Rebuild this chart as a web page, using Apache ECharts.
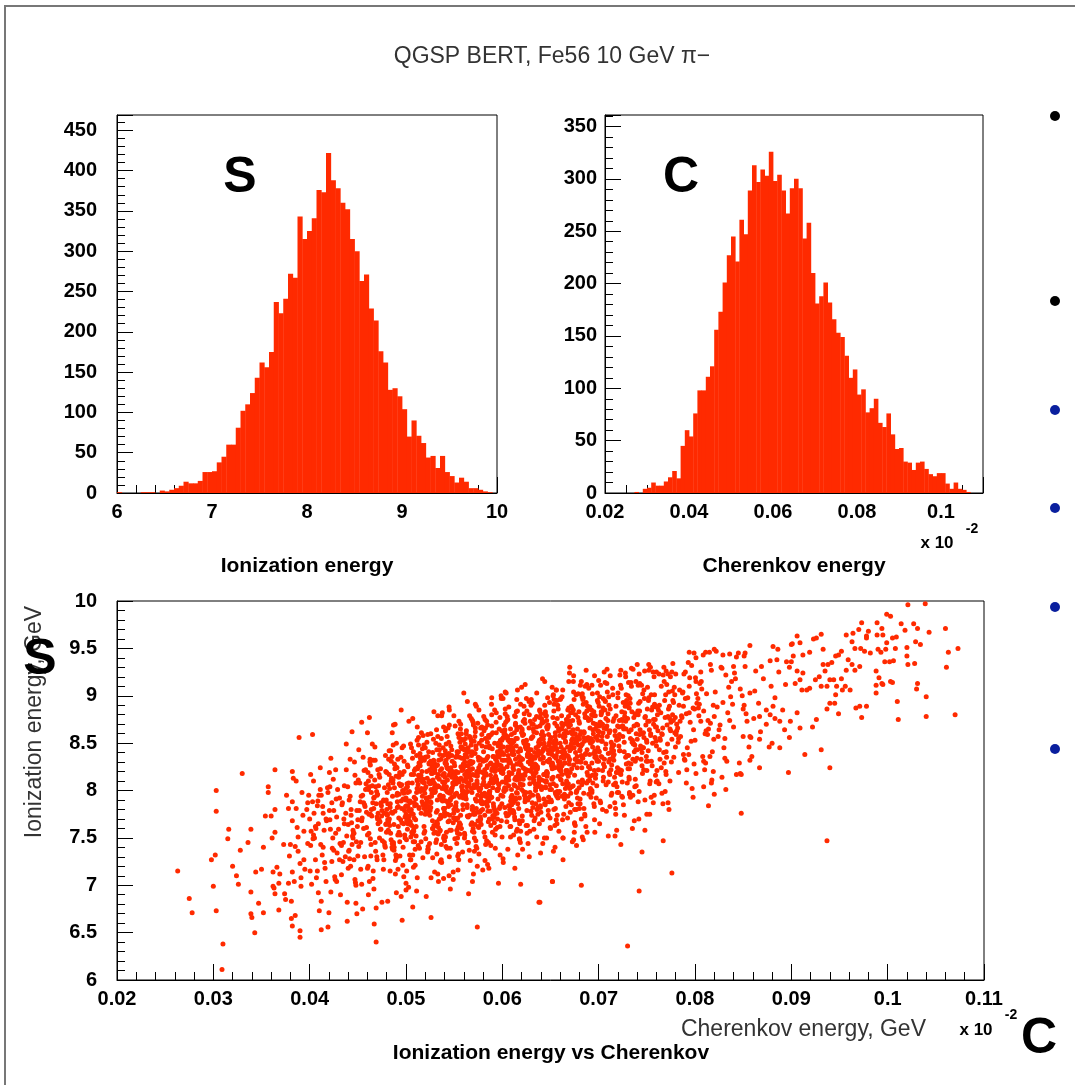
<!DOCTYPE html>
<html><head><meta charset="utf-8">
<script src="https://cdn.jsdelivr.net/npm/echarts@6/dist/echarts.min.js"></script>
<style>html,body{margin:0;padding:0;background:#fff;}#c{width:1075px;height:1085px;}</style>
</head><body><div id="c"></div>
<script>
// ---------- DATA ----------
const sBinStart = 6, sBinWidth = 0.05;
const sCounts = [1,0,0,0,0,1,1,1,0,3, 2,4,6,9,14,12,12,15,26,26, 27,38,45,60,60,81,102,110,124,143,
  162,156,175,237,223,241,272,267,343,315, 325,341,376,373,422,388,378,360,352,315,
  300,263,271,229,214,176,162,128,130,120, 104,70,90,71,62,44,46,31,46,26, 21,13,19,14,6,6,4,2,1,0];
const cBinStart = 0.02, cBinWidth = 0.001;
const cCounts = [0,0,0,0,0,0,0,1,0,4, 5,10,7,7,11,15,21,14,45,60, 54,76,98,98,111,121,156,173,201,227,
  245,221,261,247,289,313,297,309,303,326, 298,304,289,267,291,300,291,243,258,210,
  181,188,201,182,166,153,149,131,110,118, 94,99,77,81,90,67,63,76,56,42, 43,30,29,22,29,30,23,18,16,19,
  19,9,4,10,4,3,1,0,0,0];
const sYMax = 469, cYMax = 361;

// scatter: individually read points [Cherenkov, Ionization]
const scatterRead = [
[.0263,7.15],[.0275,6.86],[.0278,6.71],[.0298,7.27],[.0302,7.32],[.0303,8.00],[.0303,7.78],[.0300,6.99],[.0303,6.73],[.0310,6.38],[.0309,6.11],[.0316,7.59],[.0315,7.49],[.0320,7.20],[.0324,7.10],[.0326,7.01],[.0328,7.37],[.0330,8.18],[.0336,7.45],[.0339,7.59],[.0339,6.93],[.0339,6.70],[.0340,6.66],[.0343,6.50],[.0344,7.14],[.0347,6.81],[.0350,7.17],[.0352,7.40],[.0352,6.71],[.0354,7.73],[.0357,8.04],[.0357,7.98],[.0360,7.73],[.0361,7.50],[.0364,7.56],[.0364,8.22],[.0364,7.80],[.0362,7.14],[.0362,6.99],[.0363,6.97],[.0364,6.91],[.0366,7.19],[.0368,6.74],[.0369,7.12],[.0368,7.02],[.0373,7.43],[.0374,6.91],[.0375,6.85],[.0376,7.95],[.0378,7.02],[.0378,7.81],[.0379,7.31],[.0380,7.43],[.0381,6.83],[.0381,6.65],[.0382,6.57],[.0382,8.20],[.0383,8.13],[.0382,7.88],[.0382,7.68],[.0382,7.14],[.0384,7.04],[.0385,7.41],[.0385,6.68],[.0386,8.10],[.0386,7.81],[.0387,7.61],[.0388,7.51],[.0388,7.36],[.0389,8.56],[.0390,7.23],[.0390,6.52],[.0390,6.45],[.0391,6.99],[.0391,7.08],[.0392,7.98],[.0393,7.74],[.0394,7.57],[.0394,7.27],[.0395,7.17],[.0397,7.80],[.0398,7.44],[.0398,7.87],[.0399,7.95],[.0400,7.70],[.0401,8.17],[.0402,7.01],[.0403,8.59],[.0404,8.10],[.0404,7.53],[.0405,7.50],[.0406,7.27],[.0407,7.08],[.0408,7.84],[.0409,7.65],[.0409,6.92],[.0410,6.73],[.0411,8.24],[.0411,8.01],[.0412,6.53],[.0412,6.83],[.0413,7.32],[.0414,7.76],[.0415,7.58],[.0416,7.18],[.0417,7.04],[.0419,6.56],[.0420,6.71],[.0421,7.69],[.0421,8.04],[.0422,8.34],[.0422,6.93],[.0423,7.87],[.0424,7.50],[.0425,7.37],[.0426,7.09],[.0427,8.22],[.0428,7.04],[.0428,7.72],[.0429,8.01],[.0430,7.59],[.0431,7.27],[.0432,6.90],[.0433,7.11],[.0434,7.87],[.0435,7.45],[.0436,7.65],[.0438,8.49],[.0438,8.22],[.0439,6.62],[.0439,6.82],[.0440,7.18],[.0441,7.37],[.0442,7.94],[.0443,7.80],[.0444,8.62],[.0445,7.58],[.0446,7.27],[.0447,7.06],[.0448,6.81],[.0448,8.08],[.0449,6.70],[.0450,7.69],[.0451,8.43],[.0453,7.45],[.0454,7.01],[.0454,8.72],[.0455,6.75],[.0456,7.87],[.0457,7.30],[.0458,8.22],[.0459,7.61],[.0460,7.18],[.0461,8.01],[.0462,8.77],[.0462,7.04],[.0463,7.49],[.0464,7.80],[.0466,8.32],[.0467,6.59],[.0469,6.40],[.0469,6.76],[.0470,7.27],[.0471,7.65],
[.0401,7.42],[.0403,7.88],[.0406,7.62],[.0408,7.15],[.0412,7.95],[.0414,7.40],[.0417,7.70],[.0419,7.98],[.0423,7.25],[.0425,7.79],[.0427,7.55],[.0431,7.92],[.0433,7.42],[.0436,8.05],[.0437,7.30],
[.0495,8.85],[.0507,8.76],[.0529,8.83],[.0537,8.79],[.0560,9.03],[.0573,8.89],[.0589,8.98],[.0603,9.04],[.0615,8.96],[.0630,8.96],[.0656,9.06],[.0653,9.01],[.0487,8.69],[.0545,8.69],
[.0526,6.66],[.0496,6.63],[.0507,6.77],[.0521,6.88],[.0546,6.96],[.0565,6.91],[.0574,6.56],[.0596,7.02],[.0619,7.01],[.0638,6.82],[.0652,7.04],[.0613,7.18],[.0569,7.04],[.0554,7.16],[.0539,7.07],[.0533,7.12],[.0500,6.95],[.0490,6.92],[.0481,6.83],[.0475,6.82],
[.1021,9.96],[.1039,9.97],[.0999,9.86],[.1003,9.84],[.1014,9.76],[.1027,9.76],[.1031,9.71],[.1018,9.69],[.1043,9.67],[.1060,9.71],[.1063,9.46],[.1073,9.50],[.1061,9.30],[.1040,8.99],[.1070,8.80],[.1040,8.78],[.1011,8.75],[.1010,8.94],[.1030,9.07],[.1031,9.13],[.1021,9.33],[.1028,9.34],[.1020,9.42],[.1034,9.54],[.1029,9.57],[.1020,9.51],[.1009,9.62],[.1005,9.61],[.0999,9.56],[.1008,9.50],[.0998,9.49],[.0993,9.46],[.0990,9.49],[.0997,9.36],[.1006,9.37],[.1002,9.36],[.1003,9.15],[.1005,9.14],[.0994,9.13],[.0991,9.19],[.0988,9.26],[.0988,9.03],[.0989,9.64],[.0995,9.64],[.0989,9.77],[.0994,9.71],[.0978,9.63],[.0973,9.77],[.0980,9.68],[.0978,9.61],[.0970,9.70],[.0964,9.66],[.0963,9.57],[.0966,9.50],[.0972,9.50],[.0976,9.47],[.0982,9.45],[.0971,9.31],[.0966,9.27],[.0963,9.33],[.0957,9.27],[.0959,9.38],[.0957,9.64],[.0952,9.47],[.0949,9.43],[.0946,9.42],[.0942,9.35],[.0938,9.33],[.0933,9.33],[.0933,9.49],[.0931,9.65],[.0926,9.61],[.0923,9.60],[.0919,9.46],[.0912,9.43],[.0906,9.63],[.0900,9.54],[.0902,9.42],[.0909,9.56],[.0895,9.36],[.0900,9.36],[.0906,9.26],[.0912,9.24],[.0909,9.17],[.0904,9.13],[.0911,9.06],[.0916,9.06],[.0919,9.08],[.0925,9.17],[.0929,9.20],[.0935,9.26],[.0940,9.17],[.0944,9.17],[.0947,9.10],[.0952,9.18],[.0956,9.10],[.0953,9.06],[.0961,9.06],[.0931,9.10],[.0937,9.10],[.0946,9.01],[.0940,8.92],[.0945,8.92],[.0937,8.86],[.0949,8.81],[.0967,8.87],[.0971,8.89],[.0978,8.89],[.0973,8.77],[.0988,9.11],[.0995,9.12],[.0926,8.75],[.0922,8.67],[.0931,8.43],[.0940,8.24],[.0937,7.47],[.0914,8.38],[.0909,8.66],[.0906,8.82],[.0899,8.73],[.0898,8.56],[.0897,8.19],[.0888,8.45],[.0880,8.50],[.0893,8.64],[.0888,8.73],[.0883,8.76],[.0878,8.80],[.0881,8.89],[.0874,8.85],[.0867,8.78],[.0861,8.76],[.0857,8.57],[.0850,8.57],[.0867,8.24],[.0857,8.32],[.0848,8.17],[.0843,8.17],[.0848,7.76],[.0832,8.01],[.0820,7.96],[.0809,8.04],[.0798,7.93],[.0817,8.08],[.0776,7.13],[.0767,7.47],[.0745,7.35],[.0742,6.94],[.0730,6.36],[.0682,7.00],[.0652,7.04],[.0639,6.82],[.0663,7.27],[.0723,7.43],[.0717,7.52],[.0710,7.52],[.0748,7.58],[.0753,7.75],
[.0670,9.30],[.0740,9.33],[.0752,9.27],[.0770,9.26],[.0776,9.25],[.0794,9.46],[.0811,9.46],[.0820,9.49],[.0829,9.43],[.0836,9.44],[.0852,9.45],[.0857,9.53],[.0881,9.52],[.0886,9.49],[.0901,9.55],[.0656,9.06],[.0669,9.15],[.0700,9.16],[.0693,9.11],[.0681,9.11],[.0728,9.20],[.0760,9.25],[.0790,9.25],[.0806,9.25],[.0816,9.33],[.0828,9.29],[.0840,9.31],[.0851,9.42],[.0863,9.26],[.0869,9.31],[.0878,9.37],
[.0646,7.50],[.0663,7.50],[.0674,7.48],[.0683,7.51],[.0696,7.56],[.0701,7.65],[.0675,7.65],[.0682,7.70],[.0704,7.80],[.0724,7.94],[.0732,7.96],[.0741,7.88],[.0750,7.75],[.0769,7.99],[.0772,7.87],[.0791,8.08],[.0801,8.18],[.0809,8.31],[.0819,8.20],[.0831,8.34],[.0847,8.18],[.0859,8.36],[.0867,8.54],[.0877,8.46],
[.0862,9.05],[.0866,8.92],[.0871,9.18],[.0874,8.70],[.0879,9.10],[.0883,8.98],[.0887,9.25],[.0891,8.85],[.0894,9.12],[.0898,9.30],[.0868,8.62],[.0885,9.38]
];

// scatter: dense core, strip by strip [Cherenkov values],[Ionization values]
const coreStrips = [
[[.0443,.0451,.0447,.0456,.0441,.0453,.0449,.0458,.0445,.0454,.0442,.0450,.0457,.0446,.0452,.0440,.0455,.0448,.0459,.0444],
 [7.74,7.41,8.16,7.60,7.90,7.17,7.79,8.01,7.50,7.68,8.33,7.31,7.85,7.55,8.08,7.64,7.95,7.00,7.77,7.43]],
[[.0463,.0471,.0467,.0476,.0461,.0473,.0469,.0478,.0465,.0474,.0462,.0470,.0477,.0466,.0472,.0460,.0475,.0468,.0479,.0464,.0461,.0474,.0468,.0479,.0463,.0470,.0477,.0465,.0472,.0460],
 [8.27,7.76,7.93,7.32,8.10,7.67,7.86,7.42,8.49,7.59,8.04,7.72,7.89,7.15,8.17,7.53,7.79,8.32,7.64,7.98,6.90,7.87,7.45,8.20,7.75,7.95,7.27,8.05,7.69,8.61]],
[[.0483,.0491,.0487,.0496,.0481,.0493,.0489,.0498,.0485,.0494,.0482,.0490,.0497,.0486,.0492,.0480,.0495,.0488,.0499,.0484,.0481,.0494,.0488,.0499,.0483,.0490,.0497,.0485,.0492,.0480,.0496,.0487,.0491,.0482,.0498,.0486,.0493,.0489,.0495,.0484,.0482,.0491,.0497,.0486,.0493],
 [7.63,7.88,7.45,8.17,7.69,7.96,7.26,8.31,7.77,8.06,7.57,8.50,7.40,7.94,7.83,8.19,6.88,8.03,7.50,8.42,7.86,7.53,8.28,7.72,8.02,7.29,7.91,8.13,7.62,7.80,8.45,7.43,7.97,7.67,8.20,7.76,8.07,7.12,7.89,7.55,8.33,7.82,7.99,7.38,8.16]],
[[.0503,.0511,.0507,.0516,.0501,.0513,.0509,.0518,.0505,.0514,.0502,.0510,.0517,.0506,.0512,.0500,.0515,.0508,.0519,.0504,.0501,.0514,.0508,.0519,.0503,.0510,.0517,.0505,.0512,.0500,.0516,.0507,.0511,.0502,.0518,.0506,.0513,.0509,.0515,.0504,.0502,.0511,.0517,.0506,.0513,.0500,.0508,.0515,.0504,.0519],
 [7.79,7.98,7.54,8.61,7.71,8.16,7.84,8.01,7.27,8.29,7.65,7.91,8.44,7.76,8.10,7.02,7.99,7.57,8.32,7.87,8.07,7.39,8.17,7.81,8.73,7.69,7.94,7.51,8.23,7.75,8.02,7.32,8.37,7.83,8.12,7.63,8.56,7.46,8.00,7.89,8.25,6.94,8.09,7.56,8.48,7.92,7.59,8.34,7.78,8.08]],
[[.0523,.0531,.0527,.0536,.0521,.0533,.0529,.0538,.0525,.0534,.0522,.0530,.0537,.0526,.0532,.0520,.0535,.0528,.0539,.0524,.0521,.0534,.0528,.0539,.0523,.0530,.0537,.0525,.0532,.0520,.0536,.0527,.0531,.0522,.0538,.0526,.0533,.0529,.0535,.0524,.0522,.0531,.0537,.0526,.0533,.0520,.0528,.0535,.0524,.0539,.0529,.0523,.0532,.0538,.0527],
 [7.41,8.03,8.25,7.74,7.92,8.57,7.55,8.09,7.79,8.32,7.88,8.19,7.24,8.01,7.67,8.45,7.94,8.11,7.50,8.28,7.85,8.04,7.60,8.67,7.77,8.22,7.90,8.07,7.33,8.35,7.71,7.97,8.50,7.82,8.16,7.08,8.05,7.63,8.38,7.93,8.13,7.45,8.23,7.87,8.79,7.75,8.00,7.57,8.29,7.81,8.08,7.38,8.43,7.89,8.18]],
[[.0543,.0551,.0547,.0556,.0541,.0553,.0549,.0558,.0545,.0554,.0542,.0550,.0557,.0546,.0552,.0540,.0555,.0548,.0559,.0544,.0541,.0554,.0548,.0559,.0543,.0550,.0557,.0545,.0552,.0540,.0556,.0547,.0551,.0542,.0558,.0546,.0553,.0549,.0555,.0544,.0542,.0551,.0557,.0546,.0553,.0540,.0548,.0555,.0544,.0559,.0549,.0543,.0552,.0558,.0547,.0554,.0541,.0550,.0556,.0545,.0540,.0549,.0555,.0544,.0552],
 [7.75,8.68,7.58,8.12,8.01,8.37,7.06,8.21,7.68,8.60,8.04,7.71,8.46,7.90,8.20,7.47,8.09,8.31,7.80,7.98,8.63,7.61,8.15,7.85,8.38,7.94,8.25,7.30,8.07,7.73,8.51,8.00,8.17,7.56,8.34,7.91,8.10,7.66,8.73,7.83,8.28,7.96,8.13,7.39,8.41,7.77,8.03,8.56,7.88,8.22,7.14,8.11,7.69,8.44,7.99,8.19,7.51,8.29,7.93,8.85,7.81,8.06,7.63,8.35,7.87]],
[[.0563,.0571,.0567,.0576,.0561,.0573,.0569,.0578,.0565,.0574,.0562,.0570,.0577,.0566,.0572,.0560,.0575,.0568,.0579,.0564,.0561,.0574,.0568,.0579,.0563,.0570,.0577,.0565,.0572,.0560,.0576,.0567,.0571,.0562,.0578,.0566,.0573,.0569,.0575,.0564,.0562,.0571,.0577,.0566,.0573,.0560,.0568,.0575,.0564,.0579,.0569,.0563,.0572,.0578,.0567,.0574,.0561,.0570,.0576,.0565,.0560,.0569,.0575,.0564,.0572,.0578],
 [8.20,7.50,8.55,8.01,8.30,7.81,8.74,7.64,8.18,8.07,8.43,7.12,8.27,7.74,8.66,8.10,7.77,8.52,7.96,8.26,7.53,8.15,8.37,7.86,8.04,8.69,7.67,8.21,7.91,8.44,8.00,8.31,7.36,8.13,7.79,8.57,8.06,8.23,7.62,8.40,7.97,8.16,7.72,8.79,7.89,8.34,8.02,8.19,7.45,8.47,7.83,8.09,8.62,7.94,8.28,7.20,8.17,7.75,8.50,8.05,8.25,7.57,8.35,7.99,8.91,7.87]],
[[.0583,.0591,.0587,.0596,.0581,.0593,.0589,.0598,.0585,.0594,.0582,.0590,.0597,.0586,.0592,.0580,.0595,.0588,.0599,.0584,.0581,.0594,.0588,.0599,.0583,.0590,.0597,.0585,.0592,.0580,.0596,.0587,.0591,.0582,.0598,.0586,.0593,.0589,.0595,.0584,.0582,.0591,.0597,.0586,.0593,.0580,.0588,.0595,.0584,.0599,.0589,.0583,.0592,.0598,.0587,.0594,.0581,.0590,.0596,.0585,.0580,.0589,.0595,.0584,.0592,.0598,.0586,.0593],
 [8.16,7.83,8.58,8.02,8.32,7.59,8.21,8.43,7.92,8.10,8.75,7.73,8.27,7.97,8.50,8.06,8.37,7.42,8.19,7.85,8.63,8.12,8.29,7.68,8.46,8.03,8.22,7.78,8.85,7.95,8.40,8.08,8.25,7.51,8.53,7.89,8.15,8.68,8.00,8.34,7.26,8.23,7.81,8.56,8.11,8.31,7.63,8.41,8.05,8.97,7.93,8.18,7.75,8.47,7.99,8.26,7.56,8.61,8.07,8.36,7.87,8.80,7.70,8.24,8.13,8.49,7.18,8.33]],
[[.0603,.0611,.0607,.0616,.0601,.0613,.0609,.0618,.0605,.0614,.0602,.0610,.0617,.0606,.0612,.0600,.0615,.0608,.0619,.0604,.0601,.0614,.0608,.0619,.0603,.0610,.0617,.0605,.0612,.0600,.0616,.0607,.0611,.0602,.0618,.0606,.0613,.0609,.0615,.0604,.0602,.0611,.0617,.0606,.0613,.0600,.0608,.0615,.0604,.0619,.0609,.0603,.0612,.0618,.0607,.0614,.0601,.0610,.0616,.0605,.0600,.0609,.0615,.0604,.0612,.0618],
 [8.81,7.79,8.33,8.03,8.56,8.12,8.43,7.48,8.25,7.91,8.69,8.18,8.35,7.74,8.52,8.09,8.28,7.84,8.91,8.01,8.46,8.14,8.31,7.57,8.59,7.95,8.21,8.74,8.06,8.40,7.32,8.29,7.87,8.62,8.17,8.37,7.69,8.47,8.11,9.03,7.99,8.24,7.81,8.53,8.05,8.32,7.62,8.67,8.13,8.42,7.93,8.86,7.76,8.30,8.19,8.55,7.24,8.39,7.86,8.78,8.22,7.89,8.64,8.08,8.38,7.65]],
[[.0623,.0631,.0627,.0636,.0621,.0633,.0629,.0638,.0625,.0634,.0622,.0630,.0637,.0626,.0632,.0620,.0635,.0628,.0639,.0624,.0621,.0634,.0628,.0639,.0623,.0630,.0637,.0625,.0632,.0620,.0636,.0627,.0631,.0622,.0638,.0626,.0633,.0629,.0635,.0624,.0622,.0631,.0637,.0626,.0633,.0620,.0628,.0635,.0624,.0639,.0629,.0623,.0632,.0638,.0627,.0634,.0621,.0630,.0636,.0625],
 [8.75,8.24,8.41,7.80,8.58,8.15,8.34,7.90,8.97,8.07,8.52,8.20,8.37,7.63,8.65,8.01,8.27,8.80,8.12,8.46,7.38,8.35,7.93,8.68,8.23,8.43,7.75,8.53,8.17,9.09,8.05,8.30,7.87,8.59,8.11,8.38,7.68,8.73,8.19,8.48,7.99,8.92,7.82,8.36,8.25,8.61,7.30,8.45,7.92,8.84,8.28,7.95,8.70,8.14,8.44,7.71,8.33,8.55,8.04,8.22]],
[[.0643,.0651,.0647,.0656,.0641,.0653,.0649,.0658,.0645,.0654,.0642,.0650,.0657,.0646,.0652,.0640,.0655,.0648,.0659,.0644,.0641,.0654,.0648,.0659,.0643,.0650,.0657,.0645,.0652,.0640,.0656,.0647,.0651,.0642,.0658,.0646,.0653,.0649,.0655,.0644,.0642,.0651,.0657,.0646,.0653,.0640,.0648,.0655,.0644,.0659,.0649,.0643,.0652,.0658,.0647,.0654,.0641,.0650,.0656,.0645,.0640,.0649,.0655,.0644],
 [8.58,8.26,8.43,7.69,8.71,8.07,8.33,8.86,8.18,8.52,7.44,8.41,7.99,8.74,8.29,8.49,7.81,8.59,8.23,9.15,8.11,8.36,7.93,8.65,8.17,8.44,7.74,8.79,8.25,8.54,8.05,8.98,7.88,8.42,8.31,8.67,7.36,8.51,7.98,8.90,8.34,8.01,8.76,8.20,8.50,7.77,8.39,8.61,8.10,8.28,8.93,7.91,8.45,8.15,8.68,8.24,8.55,7.60,8.37,8.03,8.81,8.30,8.47,7.86]],
[[.0663,.0671,.0667,.0676,.0661,.0673,.0669,.0678,.0665,.0674,.0662,.0670,.0677,.0666,.0672,.0660,.0675,.0668,.0679,.0664,.0661,.0674,.0668,.0679,.0663,.0670,.0677,.0665,.0672,.0660,.0676,.0667,.0671,.0662,.0678,.0666,.0673,.0669,.0675,.0664,.0662,.0671,.0677,.0666,.0673,.0660,.0668,.0675,.0664,.0679,.0669,.0663,.0672,.0678,.0667,.0674,.0661,.0670],
 [7.50,8.47,8.05,8.80,8.35,8.55,7.87,8.65,8.29,9.21,8.17,8.42,7.99,8.71,8.23,8.50,7.80,8.85,8.31,8.60,8.11,9.04,7.94,8.48,8.37,8.73,7.42,8.57,8.04,8.96,8.40,8.07,8.82,8.26,8.56,7.83,8.45,8.67,8.16,8.34,8.99,7.97,8.51,8.21,8.74,8.30,8.61,7.66,8.43,8.09,8.87,8.36,8.53,7.92,8.70,8.27,8.46,8.02]],
[[.0683,.0691,.0687,.0696,.0681,.0693,.0689,.0698,.0685,.0694,.0682,.0690,.0697,.0686,.0692,.0680,.0695,.0688,.0699,.0684,.0681,.0694,.0688,.0699,.0683,.0690,.0697,.0685,.0692,.0680,.0696,.0687,.0691,.0682,.0698,.0686,.0693,.0689,.0695,.0684,.0682,.0691,.0697,.0686,.0693,.0680,.0688,.0695,.0684,.0699,.0689,.0683],
 [8.49,8.15,8.93,8.42,8.59,7.98,8.76,8.33,8.52,8.08,9.15,8.25,8.70,8.38,8.55,7.81,8.83,8.19,8.45,8.98,8.30,8.64,7.56,8.53,8.11,8.86,8.41,8.61,7.93,8.71,8.35,9.27,8.23,8.48,8.05,8.77,8.29,8.56,7.86,8.91,8.37,8.66,8.17,9.10,8.00,8.54,8.43,8.79,7.48,8.63,8.10,9.02]],
[[.0703,.0711,.0707,.0716,.0701,.0713,.0709,.0718,.0705,.0714,.0702,.0710,.0717,.0706,.0712,.0700,.0715,.0708,.0719,.0704,.0701,.0714,.0708,.0719,.0703,.0710,.0717,.0705,.0712,.0700,.0716,.0707,.0711,.0702,.0718,.0706,.0713,.0709,.0715,.0704],
 [8.52,8.19,8.94,8.38,8.68,7.95,8.57,8.79,8.28,8.46,9.11,8.09,8.63,8.33,8.86,8.42,8.73,7.78,8.55,8.21,8.99,8.48,8.65,8.04,8.82,8.39,8.58,8.14,9.21,8.31,8.76,8.44,8.61,7.87,8.89,8.25,8.51,9.04,8.36,8.70]],
[[.0723,.0731,.0727,.0736,.0721,.0733,.0729,.0738,.0725,.0734,.0722,.0730,.0737,.0726,.0732,.0720,.0735,.0728,.0739,.0724,.0721,.0734,.0728,.0739,.0723,.0730,.0737,.0725,.0732,.0720,.0736,.0727,.0731,.0722,.0738,.0726,.0733,.0729,.0735,.0724,.0722,.0731],
 [9.27,8.37,8.82,8.50,8.67,7.93,8.95,8.31,8.57,9.10,8.42,8.76,7.68,8.65,8.23,8.98,8.53,8.73,8.05,8.83,8.47,9.29,8.35,8.60,8.17,8.89,8.41,8.68,7.98,9.03,8.49,8.78,8.29,9.22,8.12,8.66,8.55,8.91,7.60,8.75,8.22,9.14]],
[[.0743,.0751,.0747,.0756,.0741,.0753,.0749,.0758,.0745,.0754,.0742,.0750,.0757,.0746,.0752,.0740,.0755,.0748,.0759,.0744,.0741,.0754,.0748,.0759,.0743,.0750,.0757,.0745,.0752,.0740,.0756,.0747,.0751,.0742,.0758],
 [8.64,8.31,9.06,8.50,8.80,8.07,8.69,8.91,8.40,8.58,9.23,8.21,8.75,8.45,8.98,8.54,8.85,7.90,8.67,8.33,9.11,8.60,8.77,8.16,8.94,8.51,8.70,8.26,9.33,8.43,8.88,8.56,8.73,7.99,9.01]],
[[.0763,.0771,.0767,.0776,.0761,.0773,.0769,.0778,.0765,.0774,.0762,.0770,.0777,.0766,.0772,.0760,.0775,.0768,.0779,.0764,.0761,.0774,.0768,.0779,.0763,.0770,.0777,.0765,.0772,.0760],
 [8.43,8.69,9.22,8.54,8.88,7.80,8.77,8.35,9.10,8.65,8.85,8.17,8.95,8.59,9.23,8.47,8.72,8.29,9.01,8.53,8.80,8.10,9.15,8.61,8.90,8.41,9.34,8.24,8.78,8.67]],
[[.0783,.0791,.0787,.0796,.0781,.0793,.0789,.0798,.0785,.0794,.0782,.0790,.0797,.0786,.0792,.0780,.0795,.0788,.0799,.0784,.0781,.0794,.0788,.0799,.0783],
 [8.19,8.81,9.03,8.52,8.70,9.35,8.33,8.87,8.57,9.10,8.66,8.97,8.02,8.79,8.45,9.23,8.72,8.89,8.28,9.06,8.63,8.82,8.38,9.45,8.55]],
[[.0803,.0811,.0807,.0816,.0801,.0813,.0809,.0818,.0805,.0814,.0802,.0810,.0817,.0806,.0812,.0800,.0815,.0808,.0819,.0804,.0801,.0814],
 [8.97,8.29,9.07,8.71,9.40,8.59,8.84,8.41,9.13,8.65,8.92,8.22,9.27,8.73,9.02,8.53,9.46,8.36,8.90,8.79,9.15,7.84]],
[[.0823,.0831,.0827,.0836,.0821,.0833,.0829,.0838,.0825,.0834,.0822,.0830,.0837,.0826,.0832,.0820,.0835,.0828,.0839,.0824],
 [8.88,8.55,9.30,8.74,9.04,8.31,8.93,9.15,8.64,8.82,9.47,8.45,8.99,8.69,9.22,8.78,9.09,8.14,8.91,8.57]],
[[.0843,.0851,.0847,.0856,.0841,.0853,.0849,.0858,.0845,.0854,.0842,.0850,.0857,.0846,.0852,.0840],
 [9.41,8.90,9.07,8.46,9.24,8.81,9.00,8.56,9.45,8.73,9.18,8.86,9.03,8.29,9.31,8.67]]
];

// scatter: second pass over the dense core
const coreStripsB = [
[[.04015,.04085,.04155,.04045,.04115,.04185,.04065,.04135,.04005,.04175,.04095,.04035],
 [7.57,7.89,7.24,7.76,7.43,8.03,7.60,7.83,7.15,7.68,7.95,7.49]],
[[.04205,.04235,.04375,.04265,.04335,.04215,.04395,.04285,.04355,.04245,.04315,.04205,.04345,.04275,.04385],
 [8.19,7.39,7.76,7.06,7.85,7.59,8.04,7.34,7.70,8.12,7.44,7.79,7.25,7.91,7.52]],
[[.04465,.04545,.04425,.04595,.04495,.04525,.04405,.04565,.04445,.04515,.04475,.04585,.04435,.04535,.04485,.04555,.04415,.04575,.04455,.04505],
 [8.30,7.71,7.20,8.02,7.62,7.88,7.36,8.21,7.52,7.79,7.03,8.07,7.66,7.94,7.46,8.35,7.28,7.83,7.55,8.11]],
[[.04615,.04685,.04755,.04645,.04715,.04785,.04665,.04735,.04605,.04775,.04695,.04635,.04745,.04675,.04795,.04625,.04725,.04655,.04765,.04705,.04705,.04635,.04775,.04665,.04735,.04615,.04795,.04685],
 [7.75,8.04,7.47,7.73,8.05,7.40,7.92,7.59,8.19,7.76,7.99,7.31,7.84,8.11,7.65,8.30,7.50,7.87,7.17,7.96,7.70,8.15,7.45,7.81,8.23,7.55,7.90,7.36]],
[[.04865,.04945,.04825,.04995,.04895,.04925,.04805,.04965,.04845,.04915,.04875,.04985,.04835,.04935,.04885,.04955,.04815,.04975,.04855,.04905,.04815,.04885,.04955,.04845,.04915,.04985,.04865,.04935,.04805,.04975,.04895,.04835,.04945,.04875,.04995,.04825,.04925,.04855],
 [8.08,7.69,8.42,7.83,7.32,8.14,7.74,8.00,7.48,8.33,7.64,7.91,7.15,8.19,7.78,8.06,7.58,8.47,7.40,7.95,7.67,8.23,7.81,8.10,7.53,7.79,8.11,7.46,7.98,7.65,8.25,7.82,8.05,7.37,7.90,8.17,7.71,8.36]],
[[.05105,.05035,.05175,.05065,.05135,.05015,.05195,.05085,.05155,.05045,.05115,.05005,.05145,.05075,.05185,.05025,.05095,.05165,.05055,.05125,.05065,.05145,.05025,.05195,.05095,.05125,.05005,.05165,.05045,.05115,.05075,.05185,.05035,.05135,.05085,.05155,.05015,.05175,.05055,.05105,.05015,.05085,.05155,.05045,.05115],
 [7.62,7.99,7.29,8.08,7.82,8.27,7.57,7.93,8.35,7.67,8.02,7.48,8.14,7.75,8.48,7.89,7.38,8.20,7.80,8.06,7.54,8.39,7.70,7.97,7.21,8.25,7.84,8.12,7.64,8.53,7.46,8.01,7.73,8.29,7.87,8.16,7.59,7.85,8.17,7.52,8.04,7.71,8.31,7.88,8.11]],
[[.05215,.05285,.05355,.05245,.05315,.05385,.05265,.05335,.05205,.05375,.05295,.05235,.05345,.05275,.05395,.05225,.05325,.05255,.05365,.05305,.05305,.05235,.05375,.05265,.05335,.05215,.05395,.05285,.05355,.05245,.05315,.05205,.05345,.05275,.05385,.05225,.05295,.05365,.05255,.05325,.05265,.05345,.05225,.05395,.05295,.05325,.05205,.05365,.05245,.05315],
 [7.91,8.23,7.58,8.10,7.77,8.37,7.94,8.17,7.49,8.02,8.29,7.83,8.48,7.68,8.05,7.35,8.14,7.88,8.33,7.63,7.99,8.41,7.73,8.08,7.54,8.20,7.81,8.54,7.95,7.44,8.26,7.86,8.12,7.60,8.45,7.76,8.03,7.27,8.31,7.90,8.18,7.70,8.59,7.52,8.07,7.79,8.35,7.93,8.22,7.65]],
[[.05505,.05435,.05575,.05465,.05535,.05415,.05595,.05485,.05555,.05445,.05515,.05405,.05545,.05475,.05585,.05425,.05495,.05565,.05455,.05525,.05465,.05545,.05425,.05595,.05495,.05525,.05405,.05565,.05445,.05515,.05475,.05585,.05435,.05535,.05485,.05555,.05415,.05575,.05455,.05505,.05415,.05485,.05555,.05445,.05515,.05585,.05465,.05535,.05405,.05575],
 [8.26,7.87,8.60,8.01,7.50,8.32,7.92,8.18,7.66,8.51,7.82,8.09,7.33,8.37,7.96,8.24,7.76,8.65,7.58,8.13,7.85,8.41,7.99,8.28,7.71,7.97,8.29,7.64,8.16,7.83,8.43,8.00,8.23,7.55,8.08,8.35,7.89,8.54,7.74,8.11,7.41,8.20,7.94,8.39,7.69,8.05,8.47,7.79,8.14,7.60]],
[[.05665,.05745,.05625,.05795,.05695,.05725,.05605,.05765,.05645,.05715,.05675,.05785,.05635,.05735,.05685,.05755,.05615,.05775,.05655,.05705,.05615,.05685,.05755,.05645,.05715,.05785,.05665,.05735,.05605,.05775,.05695,.05635,.05745,.05675,.05795,.05625,.05725,.05655,.05765,.05705,.05705,.05635,.05775,.05665,.05735,.05615,.05795,.05685,.05755,.05645],
 [8.41,7.95,8.60,7.80,8.17,7.47,8.26,8.00,8.45,7.75,8.11,8.53,7.85,8.20,7.66,8.32,7.93,8.66,8.07,7.56,8.38,7.98,8.24,7.72,8.57,7.88,8.15,7.39,8.43,8.02,8.30,7.82,8.71,7.64,8.19,7.91,8.47,8.05,8.34,7.77,8.03,8.35,7.70,8.22,7.89,8.49,8.06,8.29,7.61,8.14]],
[[.05815,.05885,.05955,.05845,.05915,.05985,.05865,.05935,.05805,.05975,.05895,.05835,.05945,.05875,.05995,.05825,.05925,.05855,.05965,.05905,.05905,.05835,.05975,.05865,.05935,.05815,.05995,.05885,.05955,.05845,.05915,.05805,.05945,.05875,.05985,.05825,.05895,.05965,.05855,.05925,.05865,.05945,.05825,.05995,.05895,.05925,.05805,.05965,.05845,.05915],
 [8.17,8.59,7.91,8.26,7.72,8.38,7.99,8.72,8.13,7.62,8.44,8.04,8.30,7.78,8.63,7.94,8.21,7.45,8.49,8.08,8.36,7.88,8.77,7.70,8.25,7.97,8.53,8.11,8.40,7.83,8.09,8.41,7.76,8.28,7.95,8.55,8.12,8.35,7.67,8.20,8.47,8.01,8.66,7.86,8.23,7.53,8.32,8.06,8.51,7.81]],
[[.06105,.06035,.06175,.06065,.06135,.06015,.06195,.06085,.06155,.06045,.06115,.06005,.06145,.06075,.06185,.06025,.06095,.06165,.06055,.06125,.06065,.06145,.06025,.06195,.06095,.06125,.06005,.06165,.06045,.06115,.06075,.06185,.06035,.06135,.06085,.06155,.06015,.06175,.06055,.06105,.06015,.06085,.06155,.06045,.06115,.06185,.06065,.06135,.06005,.06175],
 [8.50,8.10,8.36,7.84,8.69,8.00,8.27,7.51,8.55,8.14,8.42,7.94,8.83,7.76,8.31,8.03,8.59,8.17,8.46,7.89,8.15,8.47,7.82,8.34,8.01,8.61,8.18,8.41,7.73,8.26,8.53,8.07,8.72,7.92,8.29,7.59,8.38,8.12,8.57,7.87,8.23,8.65,7.97,8.32,7.78,8.44,8.05,8.78,8.19,7.68]],
[[.06265,.06345,.06225,.06395,.06295,.06325,.06205,.06365,.06245,.06315,.06275,.06385,.06235,.06335,.06285,.06355,.06215,.06375,.06255,.06305,.06215,.06285,.06355,.06245,.06315,.06385,.06265,.06335,.06205,.06375,.06295,.06235,.06345,.06275,.06395,.06225,.06325,.06255,.06365,.06305,.06305,.06235,.06375,.06265,.06335,.06215,.06395,.06285,.06355,.06245],
 [8.48,8.00,8.89,7.82,8.37,8.09,8.65,8.23,8.52,7.95,8.21,8.53,7.88,8.40,8.07,8.67,8.24,8.47,7.79,8.32,8.59,8.13,8.78,7.98,8.35,7.65,8.44,8.18,8.63,7.93,8.29,8.71,8.03,8.38,7.84,8.50,8.11,8.84,8.25,7.74,8.56,8.16,8.42,7.90,8.75,8.06,8.33,7.57,8.61,8.20]],
[[.06415,.06485,.06555,.06445,.06515,.06585,.06465,.06535,.06405,.06575,.06495,.06435,.06545,.06475,.06595,.06425,.06525,.06455,.06565,.06505,.06505,.06435,.06575,.06465,.06535,.06415,.06595,.06485,.06555,.06445,.06515,.06405,.06545,.06475,.06585,.06425,.06495,.06565,.06455,.06525,.06465,.06545,.06425,.06595,.06495,.06525,.06405,.06565,.06445,.06515],
 [8.73,8.30,8.53,7.85,8.38,8.65,8.19,8.84,8.04,8.41,7.71,8.50,8.24,8.69,7.99,8.35,8.77,8.09,8.44,7.90,8.56,8.17,8.90,8.31,7.80,8.62,8.22,8.48,7.96,8.81,8.12,8.39,7.63,8.67,8.26,8.54,8.06,8.95,7.88,8.43,8.15,8.71,8.29,8.58,8.01,8.27,8.59,7.94,8.46,8.13]],
[[.06705,.06635,.06775,.06665,.06735,.06615,.06795,.06685,.06755,.06645,.06715,.06605,.06745,.06675,.06785,.06625,.06695,.06765,.06655,.06725,.06665,.06745,.06625,.06795,.06695,.06725,.06605,.06765,.06645,.06715,.06675,.06785,.06635,.06735,.06685,.06755,.06615,.06775,.06655,.06705,.06615,.06685,.06755,.06645,.06715],
 [7.77,8.56,8.30,8.75,8.05,8.41,8.83,8.15,8.50,7.96,8.62,8.23,8.96,8.37,7.86,8.68,8.28,8.54,8.02,8.87,8.18,8.45,7.69,8.73,8.32,8.60,8.12,9.01,7.94,8.49,8.21,8.77,8.35,8.64,8.07,8.33,8.65,8.00,8.52,8.19,8.79,8.36,8.59,7.91,8.44]],
[[.06865,.06945,.06825,.06995,.06895,.06925,.06805,.06965,.06845,.06915,.06875,.06985,.06835,.06935,.06885,.06955,.06815,.06975,.06855,.06905,.06815,.06885,.06955,.06845,.06915,.06985,.06865,.06935,.06805,.06975,.06895,.06835,.06945,.06875,.06995,.06825,.06925,.06855,.06965,.06905],
 [8.39,8.71,8.06,8.58,8.25,8.85,8.42,8.65,7.97,8.50,8.77,8.31,8.96,8.16,8.53,7.83,8.62,8.36,8.81,8.11,8.47,8.89,8.21,8.56,8.02,8.68,8.29,9.02,8.43,7.92,8.74,8.34,8.60,8.08,8.93,8.24,8.51,7.75,8.79,8.38]],
[[.07015,.07085,.07155,.07045,.07115,.07185,.07065,.07135,.07005,.07175,.07095,.07035,.07145,.07075,.07195,.07025,.07125,.07055,.07165,.07105,.07105,.07035,.07175,.07065,.07135,.07015,.07195,.07085,.07155,.07045,.07115,.07005,.07145,.07075,.07185],
 [7.89,8.68,8.42,8.87,8.17,8.53,8.95,8.27,8.62,8.08,8.74,8.35,9.08,8.49,7.98,8.80,8.40,8.66,8.14,8.99,8.30,8.57,7.81,8.85,8.44,8.72,8.24,9.13,8.06,8.61,8.33,8.89,8.47,8.76,8.19]],
[[.07265,.07345,.07225,.07395,.07295,.07325,.07205,.07365,.07245,.07315,.07275,.07385,.07235,.07335,.07285,.07355,.07215,.07375,.07255,.07305,.07215,.07285,.07355,.07245,.07315,.07385,.07265,.07335,.07205,.07375],
 [8.51,8.83,8.18,8.70,8.37,8.97,8.54,8.77,8.09,8.62,8.89,8.43,9.08,8.28,8.65,7.95,8.74,8.48,8.93,8.23,8.59,9.01,8.33,8.68,8.14,8.80,8.41,9.14,8.55,8.04]],
[[.07505,.07435,.07575,.07465,.07535,.07415,.07595,.07485,.07555,.07445,.07515,.07405,.07545,.07475,.07585,.07425,.07495,.07565,.07455,.07525,.07465,.07545,.07425,.07595,.07495],
 [8.86,8.47,9.20,8.61,8.10,8.92,8.52,8.78,8.26,9.11,8.42,8.69,7.93,8.97,8.56,8.84,8.36,9.25,8.18,8.73,8.45,9.01,8.59,8.88,8.31]],
[[.07615,.07685,.07755,.07645,.07715,.07785,.07665,.07735,.07605,.07775,.07695,.07635,.07745,.07675,.07795,.07625,.07725,.07655,.07765,.07705],
 [8.63,8.95,8.30,8.82,8.49,9.09,8.66,8.89,8.21,8.74,9.01,8.55,9.20,8.40,8.77,8.07,8.86,8.60,9.05,8.35]],
[[.07865,.07945,.07825,.07995,.07895,.07925,.07805,.07965,.07845,.07915,.07875,.07985,.07835,.07935,.07885],
 [8.77,9.19,8.51,8.86,8.32,8.98,8.59,9.32,8.73,8.22,9.04,8.64,8.90,8.38,9.23]],
[[.08105,.08035,.08175,.08065,.08135,.08015,.08195,.08085,.08155,.08045,.08115,.08005],
 [8.60,8.87,8.11,9.15,8.74,9.02,8.54,9.43,8.36,8.91,8.63,9.19]]
];

// scatter: third pass over the dense core (wider spread)
const coreStripsC = [
[[.04627,.04697,.04767,.04657,.04727,.04797,.04677,.04747,.04607,.04777,.04707,.04637,.04737,.04667,.04787],
 [8.33,7.30,7.90,7.07,8.14,7.56,8.46,7.73,7.20,8.03,8.22,7.43,7.86,6.96,8.37]],
[[.04827,.04897,.04967,.04857,.04927,.04997,.04877,.04947,.04807,.04977,.04907,.04837,.04937,.04867,.04987,.04817,.04917,.04847,.04957,.04887,.04857,.04977],
 [7.70,8.15,7.21,8.61,7.56,8.02,7.40,8.35,7.75,7.09,8.24,7.86,7.31,8.48,7.53,8.06,7.17,8.31,7.66,8.70,7.44,7.97]],
[[.05027,.05097,.05167,.05057,.05127,.05197,.05077,.05147,.05007,.05177,.05107,.05037,.05137,.05067,.05187,.05017,.05117,.05047,.05157,.05087,.05047,.05117,.05187,.05027,.05157,.05077,.05137,.05007],
 [6.98,8.23,7.88,8.45,7.42,8.02,7.19,8.26,7.68,8.58,7.85,7.32,8.15,8.34,7.55,7.98,7.08,8.49,7.76,8.21,7.27,8.67,7.62,8.08,7.46,8.41,7.81,7.15]],
[[.05227,.05297,.05367,.05257,.05327,.05397,.05277,.05347,.05207,.05377,.05307,.05237,.05337,.05267,.05387,.05217,.05317,.05247,.05357,.05287,.05247,.05317,.05387,.05227,.05357,.05277,.05337,.05207,.05297,.05367,.05257,.05327],
 [8.36,7.98,7.43,8.60,7.65,8.18,7.29,8.43,7.78,8.82,7.56,8.09,7.04,8.29,7.94,8.51,7.48,8.08,7.25,8.32,7.74,8.64,7.91,7.38,8.21,8.40,7.61,8.04,7.14,8.55,7.82,8.27]],
[[.05427,.05497,.05567,.05457,.05527,.05597,.05477,.05547,.05407,.05577,.05507,.05437,.05537,.05467,.05587,.05417,.05517,.05447,.05557,.05487,.05447,.05517,.05587,.05427,.05557,.05477,.05537,.05407,.05497,.05567,.05457,.05527,.05417,.05577,.05437,.05547],
 [7.39,8.79,7.74,8.20,7.58,8.53,7.93,7.27,8.42,8.04,7.49,8.66,7.71,8.24,7.35,8.49,7.84,8.88,7.62,8.15,7.10,8.35,8.00,8.57,7.54,8.14,7.31,8.38,7.80,8.70,7.97,7.44,8.27,8.46,7.67,8.10]],
[[.05627,.05697,.05767,.05657,.05727,.05797,.05677,.05747,.05607,.05777,.05707,.05637,.05737,.05667,.05787,.05617,.05717,.05647,.05757,.05687,.05647,.05717,.05787,.05627,.05757,.05677,.05737,.05607,.05697,.05767,.05657,.05727,.05617,.05777,.05637,.05747,.05667,.05797,.05687,.05707],
 [8.63,7.60,8.20,7.37,8.44,7.86,8.76,8.03,7.50,8.33,8.52,7.73,8.16,7.26,8.67,7.94,8.39,7.45,8.85,7.80,8.26,7.64,8.59,7.99,7.33,8.48,8.10,7.55,8.72,7.77,8.30,7.41,8.55,7.90,8.94,7.68,8.21,7.16,8.41,8.06]],
[[.05827,.05897,.05967,.05857,.05927,.05997,.05877,.05947,.05807,.05977,.05907,.05837,.05937,.05867,.05987,.05817,.05917,.05847,.05957,.05887,.05847,.05917,.05987,.05827,.05957,.05877,.05937,.05807,.05897,.05967,.05857,.05927,.05817,.05977,.05837,.05947,.05867,.05997,.05887,.05907],
 [8.32,7.70,8.65,8.05,7.39,8.54,8.16,7.61,8.78,7.83,8.36,7.47,8.61,7.96,9.00,7.74,8.27,7.22,8.47,8.12,8.69,7.66,8.26,7.43,8.50,7.92,8.82,8.09,7.56,8.39,8.58,7.79,8.22,7.32,8.73,8.00,8.45,7.51,8.91,7.86]],
[[.06027,.06097,.06167,.06057,.06127,.06197,.06077,.06147,.06007,.06177,.06107,.06037,.06137,.06067,.06187,.06017,.06117,.06047,.06157,.06087,.06047,.06117,.06187,.06027,.06157,.06077,.06137,.06007,.06097,.06167,.06057,.06127,.06017,.06177,.06037,.06147,.06067,.06197,.06087,.06107],
 [8.64,7.85,8.28,7.38,8.79,8.06,8.51,7.57,8.97,7.92,8.38,7.76,8.71,8.11,7.45,8.60,8.22,7.67,8.84,7.89,8.42,7.53,8.67,8.02,9.06,7.80,8.33,7.28,8.53,8.18,8.75,7.72,8.32,7.49,8.56,7.98,8.88,8.15,7.62,8.45]],
[[.06227,.06297,.06367,.06257,.06327,.06397,.06277,.06347,.06207,.06377,.06307,.06237,.06337,.06267,.06387,.06217,.06317,.06247,.06357,.06287,.06247,.06317,.06387,.06227,.06357,.06277,.06337,.06207,.06297,.06367,.06257,.06327,.06217,.06377,.06237,.06347,.06267,.06397],
 [8.81,7.78,8.38,7.55,8.62,8.04,8.94,8.21,7.68,8.51,8.70,7.91,8.34,7.44,8.85,8.12,8.57,7.63,9.03,7.98,8.44,7.82,8.77,8.17,7.51,8.66,8.28,7.73,8.90,7.95,8.48,7.59,8.73,8.08,9.12,7.86,8.39,7.34]],
[[.06427,.06497,.06567,.06457,.06527,.06597,.06477,.06547,.06407,.06577,.06507,.06437,.06537,.06467,.06587,.06417,.06517,.06447,.06557,.06487,.06447,.06517,.06587,.06427,.06557,.06477,.06537,.06407,.06497,.06567,.06457,.06527,.06417,.06577,.06437,.06547,.06467,.06597],
 [8.44,7.61,8.68,8.10,9.00,8.27,7.74,8.57,8.76,7.97,8.40,7.50,8.91,8.18,8.63,7.69,9.09,8.04,8.50,7.88,8.83,8.23,7.57,8.72,8.34,7.79,8.96,8.01,8.54,7.65,8.79,8.14,9.18,7.92,8.45,7.40,8.65,8.30]],
[[.06627,.06697,.06767,.06657,.06727,.06797,.06677,.06747,.06607,.06777,.06707,.06637,.06737,.06667,.06787,.06617,.06717,.06647,.06757,.06687,.06647,.06717,.06787,.06627,.06757,.06677,.06737,.06607,.06697,.06767,.06657,.06727,.06617,.06777],
 [9.06,8.33,7.80,8.63,8.82,8.03,8.46,7.56,8.97,8.24,8.69,7.75,9.15,8.10,8.56,7.94,8.89,8.29,7.63,8.78,8.40,7.85,9.02,8.07,8.60,7.71,8.85,8.20,9.24,7.98,8.51,7.46,8.71,8.36]],
[[.06827,.06897,.06967,.06857,.06927,.06997,.06877,.06947,.06807,.06977,.06907,.06837,.06937,.06867,.06987,.06817,.06917,.06847,.06957,.06887,.06847,.06917,.06987,.06827,.06957,.06877,.06937,.06807,.06897,.06967],
 [8.99,7.96,8.56,7.73,8.80,8.22,9.12,8.39,7.86,8.69,8.88,8.09,8.52,7.62,9.03,8.30,8.75,7.81,9.21,8.16,8.62,8.00,8.95,8.35,7.69,8.84,8.46,7.91,9.08,8.13]],
[[.07027,.07097,.07167,.07057,.07127,.07197,.07077,.07147,.07007,.07177,.07107,.07037,.07137,.07067,.07187,.07017,.07117,.07047,.07157,.07087,.07047,.07117,.07187,.07027,.07157],
 [8.36,8.81,7.87,9.25,8.22,8.68,8.06,9.01,8.41,7.75,8.90,8.52,7.97,9.14,8.19,8.72,7.83,8.97,8.32,9.28,8.10,8.63,7.58,8.83,8.48]],
[[.07227,.07297,.07367,.07257,.07327,.07397,.07277,.07347,.07207,.07377,.07307,.07237,.07337,.07267,.07387,.07217,.07317,.07247,.07357,.07287,.07247,.07317],
 [9.11,8.08,8.68,7.85,8.92,8.34,9.24,8.51,7.98,8.81,9.00,8.21,8.64,7.74,9.15,8.42,8.87,7.93,9.28,8.28,8.74,8.12]],
[[.07427,.07497,.07567,.07457,.07527,.07597,.07477,.07547,.07407,.07577,.07507,.07437,.07537,.07467,.07587,.07417,.07517,.07447],
 [9.13,8.53,7.87,9.02,8.64,8.09,9.26,8.31,8.84,7.95,9.09,8.44,9.30,8.22,8.75,7.70,8.95,8.60]],
[[.07627,.07697,.07767,.07657,.07727,.07797,.07677,.07747,.07607,.07777,.07707,.07637,.07737,.07667],
 [9.23,8.20,8.80,7.97,9.04,8.46,9.30,8.63,8.10,8.93,9.12,8.33,8.76,7.86]]
];

// ---------- BUILD ----------
const RED = '#ff2a00';
const FONT = '"Liberation Sans", Arial, Helvetica, sans-serif';
function histData(start, width, counts) {
  return counts.map((c, i) => [start + i * width, start + (i + 1) * width, c]);
}
const scatterData = scatterRead.slice();
coreStrips.concat(coreStripsB, coreStripsC).forEach(([xs, ys]) => {
  const n = Math.min(xs.length, ys.length);
  for (let i = 0; i < n; i++) scatterData.push([xs[i], ys[i]]);
});
function renderBar(params, api) {
  const p0 = api.coord([api.value(0), api.value(2)]);
  const p1 = api.coord([api.value(1), 0]);
  return { type: 'rect', shape: { x: p0[0], y: p0[1], width: p1[0] - p0[0] + 0.4, height: p1[1] - p0[1] },
    style: { fill: RED } };
}
const lbl = (margin, extra) => Object.assign({ fontFamily: FONT, fontWeight: 'bold', fontSize: 20, color: '#000', margin: margin }, extra || {});
function valAxis(gi, min, max, interval, minorSplit, margin, extra) {
  return Object.assign({
    gridIndex: gi, type: 'value', min: min, max: max, interval: interval,
    axisLine: { show: true, onZero: false, lineStyle: { color: '#000', width: 1 } },
    axisTick: { show: true, inside: true, length: 16, lineStyle: { color: '#000', width: 1 } },
    minorTick: { show: true, splitNumber: minorSplit, length: 8, lineStyle: { color: '#000', width: 1 } },
    splitLine: { show: false }, minorSplitLine: { show: false },
    axisLabel: lbl(margin)
  }, extra || {});
}
const chart = echarts.init(document.getElementById('c'), null, { renderer: 'canvas' });
const txt = (x, y, text, font, fill, align, extra) => Object.assign({
  type: 'text', x: x, y: y, silent: true,
  style: { text: text, font: font, fill: fill || '#000', align: align || 'center', verticalAlign: 'middle',
    textAlign: align || 'center', textVerticalAlign: 'middle' }
}, extra || {});
const option = {
  animation: false,
  backgroundColor: '#fff',
  grid: [
    { left: 117, top: 115, width: 380, height: 378, show: true, borderColor: '#000', borderWidth: 1, outerBoundsMode: 'none' },
    { left: 605, top: 115, width: 378, height: 378, show: true, borderColor: '#000', borderWidth: 1, outerBoundsMode: 'none' },
    { left: 117, top: 601, width: 867, height: 379, show: true, borderColor: '#000', borderWidth: 1, outerBoundsMode: 'none' }
  ],
  xAxis: [
    valAxis(0, 6, 10, 1, 5, 9),
    valAxis(1, 0.02, 0.11, 0.02, 4, 9, { axisLabel: lbl(9, { showMaxLabel: false }) }),
    valAxis(2, 0.02, 0.11, 0.01, 5, 9)
  ],
  yAxis: [
    valAxis(0, 0, sYMax, 50, 5, 20, { axisLabel: lbl(20, { showMaxLabel: false }) }),
    valAxis(1, 0, cYMax, 50, 5, 8, { axisLabel: lbl(8, { showMaxLabel: false }) }),
    valAxis(2, 6, 10, 0.5, 5, 20)
  ],
  series: [
    { type: 'custom', xAxisIndex: 0, yAxisIndex: 0, renderItem: renderBar, encode: { x: [0, 1], y: 2 },
      data: histData(sBinStart, sBinWidth, sCounts), silent: true, clip: true },
    { type: 'custom', xAxisIndex: 1, yAxisIndex: 1, renderItem: renderBar, encode: { x: [0, 1], y: 2 },
      data: histData(cBinStart, cBinWidth, cCounts), silent: true, clip: true },
    { type: 'scatter', xAxisIndex: 2, yAxisIndex: 2, data: scatterData, symbol: 'circle', symbolSize: 5,
      itemStyle: { color: RED, opacity: 1 }, silent: true, large: false }
  ],
  graphic: { elements: [
    { type: 'rect', silent: true, shape: { x: 5, y: 6, width: 1100, height: 1100 }, style: { fill: 'none', stroke: '#777', lineWidth: 2 } },
    txt(552, 57, 'QGSP BERT, Fe56 10 GeV \u03C0\u2212', '23px ' + FONT, '#333'),
    txt(240, 178, 'S', 'bold 50px ' + FONT),
    txt(681, 178, 'C', 'bold 50px ' + FONT),
    txt(307, 566, 'Ionization energy', 'bold 21px ' + FONT),
    txt(794, 566, 'Cherenkov energy', 'bold 21px ' + FONT),
    txt(937, 543, 'x 10', 'bold 17px ' + FONT),
    txt(972, 529, '-2', 'bold 14px ' + FONT),
    txt(35, 722, 'Ionization energy, GeV', '23px ' + FONT, '#333', 'center', { rotation: Math.PI / 2 }),
    txt(40, 660, 'S', 'bold 50px ' + FONT),
    txt(926, 1030, 'Cherenkov energy, GeV', '23px ' + FONT, '#333', 'right'),
    txt(976, 1030, 'x 10', 'bold 17px ' + FONT),
    txt(1011, 1015, '-2', 'bold 14px ' + FONT),
    txt(1039, 1039, 'C', 'bold 50px ' + FONT),
    txt(551, 1053, 'Ionization energy vs Cherenkov', 'bold 21px ' + FONT),
    { type: 'circle', silent: true, shape: { cx: 1055, cy: 116, r: 5 }, style: { fill: '#000' } },
    { type: 'circle', silent: true, shape: { cx: 1055, cy: 301, r: 5 }, style: { fill: '#000' } },
    { type: 'circle', silent: true, shape: { cx: 1055, cy: 410, r: 5 }, style: { fill: '#0a1f9e' } },
    { type: 'circle', silent: true, shape: { cx: 1055, cy: 508, r: 5 }, style: { fill: '#0a1f9e' } },
    { type: 'circle', silent: true, shape: { cx: 1055, cy: 607, r: 5 }, style: { fill: '#0a1f9e' } },
    { type: 'circle', silent: true, shape: { cx: 1055, cy: 749, r: 5 }, style: { fill: '#0a1f9e' } }
  ] }
};
chart.setOption(option);
</script>
</body></html>
